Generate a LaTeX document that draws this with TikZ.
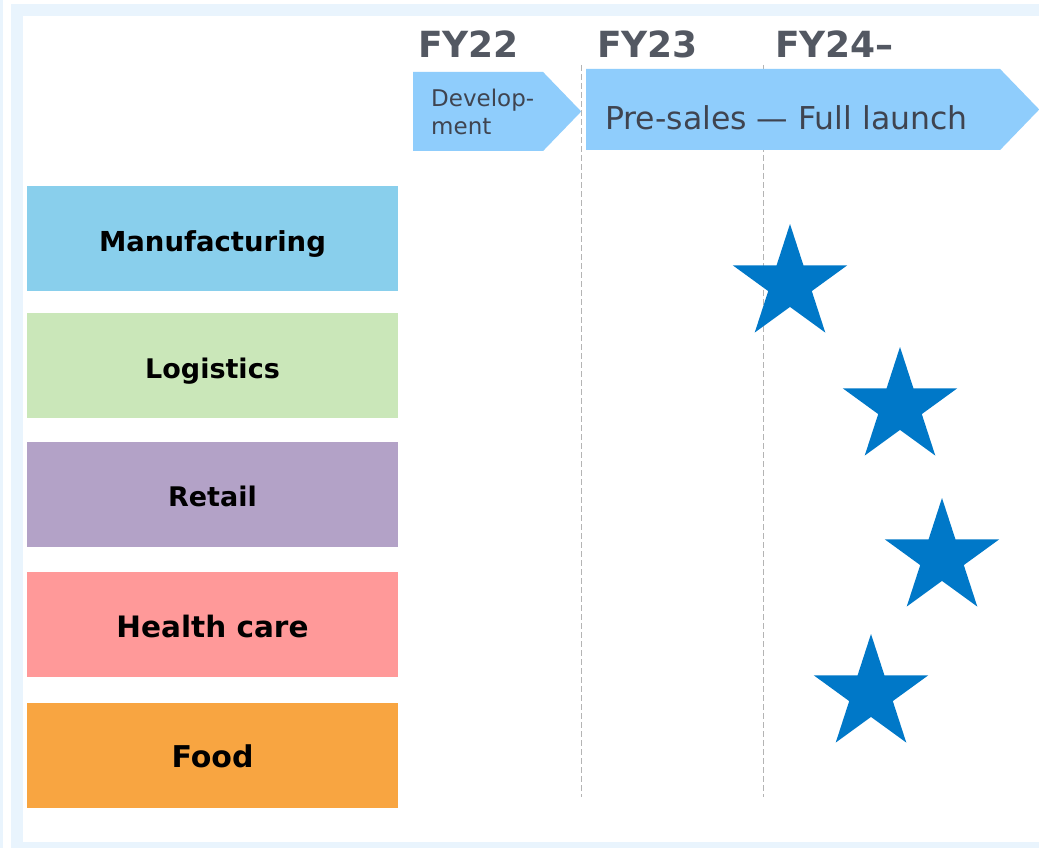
\documentclass[tikz,border=0pt]{standalone}
\usepackage{fontspec}
\setmainfont{DejaVu Sans}
\usepackage{tikz}
\usetikzlibrary{positioning,shapes.geometric,shapes.symbols}
\usepackage{xcolor}
\definecolor{framebg}{HTML}{E9F4FD}
\definecolor{phasebg}{HTML}{8FCDFC}
\definecolor{yeargray}{HTML}{535862}
\definecolor{phasetxt}{HTML}{3F4450}
\definecolor{divgray}{HTML}{B4B4B4}
\definecolor{starblue}{HTML}{0078C8}
\definecolor{manucol}{HTML}{89CFEC}
\definecolor{logicol}{HTML}{CAE7B9}
\definecolor{retailcol}{HTML}{B3A2C7}
\definecolor{healthcol}{HTML}{FF9999}
\definecolor{foodcol}{HTML}{F8A541}

\begin{document}
\begin{tikzpicture}[
    x=1pt, y=-1pt,
    row/.style={rectangle, minimum width=371pt, minimum height=105pt, inner sep=0pt, text=black, text height=25pt, text depth=0pt},
    phase/.style={signal, signal to=east, signal pointer angle=92, fill=phasebg, inner sep=0pt, anchor=west},
    phaselabel/.style={text=phasetxt, inner sep=0pt, align=left},
    year/.style={font=\bfseries\fontsize{36}{40}\selectfont, text=yeargray, anchor=base west, inner sep=0pt},
    divider/.style={draw=divgray, thick, dash pattern=on 6pt off 3pt},
    milestone/.style={star, star points=5, star point ratio=2.618, fill=starblue, minimum size=120pt, inner sep=0pt}
]
\useasboundingbox (0,0) rectangle (1039,848);

% Frame
\fill[framebg] (0,0) rectangle (3,848);
\fill[framebg] (11,4) rectangle (1039,848);
\fill[white] (23,16) rectangle (1039,842);

% Year dividers
\draw[divider] (581,65) -- (581,797);
\draw[divider] (763,65) -- (763,797);

% Year headings
\node[year] (fy22) at (418,58) {FY22};
\node[year] (fy23) at (597,58) {FY23};
\node[year] (fy24) at (775,58) {FY24–};

% Phase arrows
\node[phase, minimum width=168pt, minimum height=79pt] (dev) at (413,111.5) {};
\node[phase, minimum width=453pt, minimum height=81pt] (launch) at (586,109.5) {};
\node[phaselabel, right=18pt of dev.west, font=\fontsize{23}{28}\selectfont] (devtext) {Develop-\\ment};
\node[phaselabel, anchor=base west, font=\fontsize{31.5}{36}\selectfont] (launchtext) at (605,130) {Pre-sales — Full launch};

% Industry rows
\node[row, fill=manucol, font=\bfseries\fontsize{27.5}{30}\selectfont] (manu) at (212.5,238.5) {Manufacturing};
\node[row, fill=logicol, below=22pt of manu, font=\bfseries\fontsize{27}{30}\selectfont] (logi) {Logistics};
\node[row, fill=retailcol, below=23pt of logi, font=\bfseries\fontsize{27}{30}\selectfont] (retail) {Retail};
\node[row, fill=healthcol, below=25pt of retail, font=\bfseries\fontsize{29.5}{32}\selectfont] (health) {Health care};
\node[row, fill=foodcol, below=25pt of health, font=\bfseries\fontsize{30}{32}\selectfont] (food) {Food};

% Launch stars
\node[milestone] (starmanu) at (790,284) {};
\node[milestone] (starlogi) at (900,407) {};
\node[milestone] (starretail) at (942,558) {};
\node[milestone] (starhealth) at (871,694) {};

\end{tikzpicture}
\end{document}
